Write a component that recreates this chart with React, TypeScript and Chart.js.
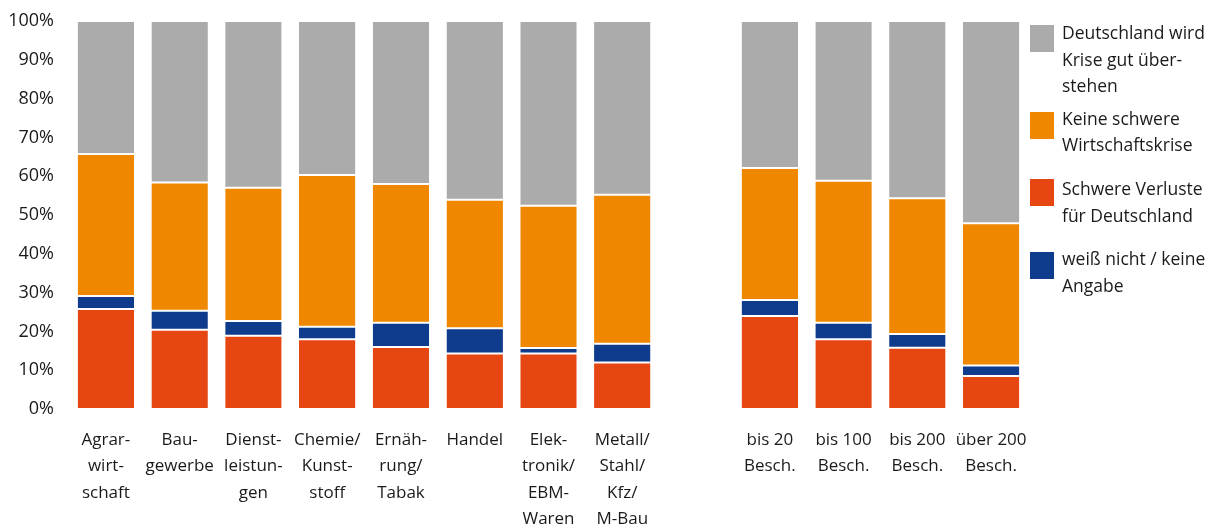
import React, { useEffect, useRef } from "react";
import { Chart, registerables } from "chart.js";

Chart.register(...registerables);

const categories: (string | string[])[] = [
  ["Agrar-", "wirt-", "schaft"],
  ["Bau-", "gewerbe"],
  ["Dienst-", "leistun-", "gen"],
  ["Chemie/", "Kunst-", "stoff"],
  ["Ernäh-", "rung/", "Tabak"],
  ["Handel"],
  ["Elek-", "tronik/", "EBM-", "Waren"],
  ["Metall/", "Stahl/", "Kfz/", "M-Bau"],
  "",
  ["bis 20", "Besch."],
  ["bis 100", "Besch."],
  ["bis 200", "Besch."],
  ["über 200", "Besch."],
];

const schwereVerluste = [25.8, 20.4, 18.9, 18.0, 16.0, 14.3, 14.3, 12.0, null, 24.0, 18.0, 15.8, 8.5];
const weissNicht = [3.3, 4.9, 3.8, 3.2, 6.2, 6.5, 1.4, 4.8, null, 4.1, 4.2, 3.5, 2.7];
const keineSchwere = [36.6, 33.1, 34.3, 39.1, 35.8, 33.1, 36.7, 38.4, null, 34.0, 36.6, 35.0, 36.7];
const gutUeberstehen = [34.3, 41.6, 43.0, 39.7, 42.0, 46.1, 47.6, 44.8, null, 37.9, 41.2, 45.7, 52.1];

const yTicks = [0, 10, 20, 30, 40, 50, 60, 70, 80, 90, 100];

const COLORS = {
  gray: "#ABABAB",
  orange: "#F08700",
  red: "#E64612",
  blue: "#0E3B8B",
};

const FONT = "'Open Sans', 'Noto Sans', sans-serif";
const TEXT = "#1a1a1a";

const legendItems = [
  { color: COLORS.gray, lines: ["Deutschland wird", "Krise gut über-", "stehen"], sq: 25, tx: 19 },
  { color: COLORS.orange, lines: ["Keine schwere", "Wirtschaftskrise"], sq: 112, tx: 104.5 },
  { color: COLORS.red, lines: ["Schwere Verluste", "für Deutschland"], sq: 179, tx: 175 },
  { color: COLORS.blue, lines: ["weiß nicht / keine", "Angabe"], sq: 252, tx: 245 },
];

export default function App() {
  const ref = useRef<HTMLCanvasElement>(null);

  useEffect(() => {
    const border = { top: 1, bottom: 1, left: 0, right: 0 };
    const mk = (label: string, data: (number | null)[], color: string) => ({
      label,
      data,
      backgroundColor: color,
      borderColor: "#ffffff",
      borderWidth: border,
      borderSkipped: false as const,
      categoryPercentage: 1,
      barPercentage: 0.765,
    });
    const chart = new Chart(ref.current!, {
      type: "bar",
      data: {
        labels: categories,
        datasets: [
          mk("Schwere Verluste für Deutschland", schwereVerluste, COLORS.red),
          mk("weiß nicht / keine Angabe", weissNicht, COLORS.blue),
          mk("Keine schwere Wirtschaftskrise", keineSchwere, COLORS.orange),
          mk("Deutschland wird Krise gut überstehen", gutUeberstehen, COLORS.gray),
        ] as any,
      },
      options: {
        responsive: false,
        animation: false,
        layout: { padding: { left: 0, right: 189, top: 21, bottom: 0 } },
        plugins: { legend: { display: false }, tooltip: { enabled: false } },
        scales: {
          x: {
            stacked: true,
            grid: { display: false, drawTicks: false },
            border: { display: false },
            ticks: {
              autoSkip: false,
              maxRotation: 0,
              minRotation: 0,
              padding: 18,
              color: TEXT,
              font: { family: FONT, size: 17, lineHeight: 1.55 },
            },
            afterFit: (s: any) => {
              s.height = 117;
              s.paddingLeft = 0;
              s.paddingRight = 0;
            },
          },
          y: {
            stacked: true,
            min: 0,
            max: 100,
            grid: { display: false, drawTicks: false },
            border: { display: false },
            afterBuildTicks: (s: any) => {
              s.ticks = yTicks.map((v) => ({ value: v }));
            },
            afterFit: (s: any) => {
              s.width = 69;
              s.paddingTop = 0;
              s.paddingBottom = 0;
            },
            ticks: {
              padding: 15,
              color: TEXT,
              font: { family: FONT, size: 18 },
              callback: (v: any) => v + "%",
            },
          },
        },
      },
    });
    return () => chart.destroy();
  }, []);

  return (
    <div
      style={{
        position: "absolute",
        left: 0,
        top: 0,
        width: 1217,
        height: 526,
        background: "#fff",
        fontFamily: FONT,
        color: TEXT,
      }}
    >
      <canvas
        ref={ref}
        width={1217}
        height={526}
        style={{ position: "absolute", left: 0, top: 0, width: 1217, height: 526 }}
      />
      {legendItems.map((it, i) => (
        <React.Fragment key={i}>
          <div
            style={{
              position: "absolute",
              left: 1030,
              top: it.sq,
              width: 24,
              height: 27,
              background: it.color,
            }}
          />
          <div
            style={{
              position: "absolute",
              left: 1062,
              top: it.tx,
              fontSize: 17.5,
              lineHeight: "26.5px",
              whiteSpace: "nowrap",
            }}
          >
            {it.lines.map((l, j) => (
              <div key={j}>{l}</div>
            ))}
          </div>
        </React.Fragment>
      ))}
    </div>
  );
}
